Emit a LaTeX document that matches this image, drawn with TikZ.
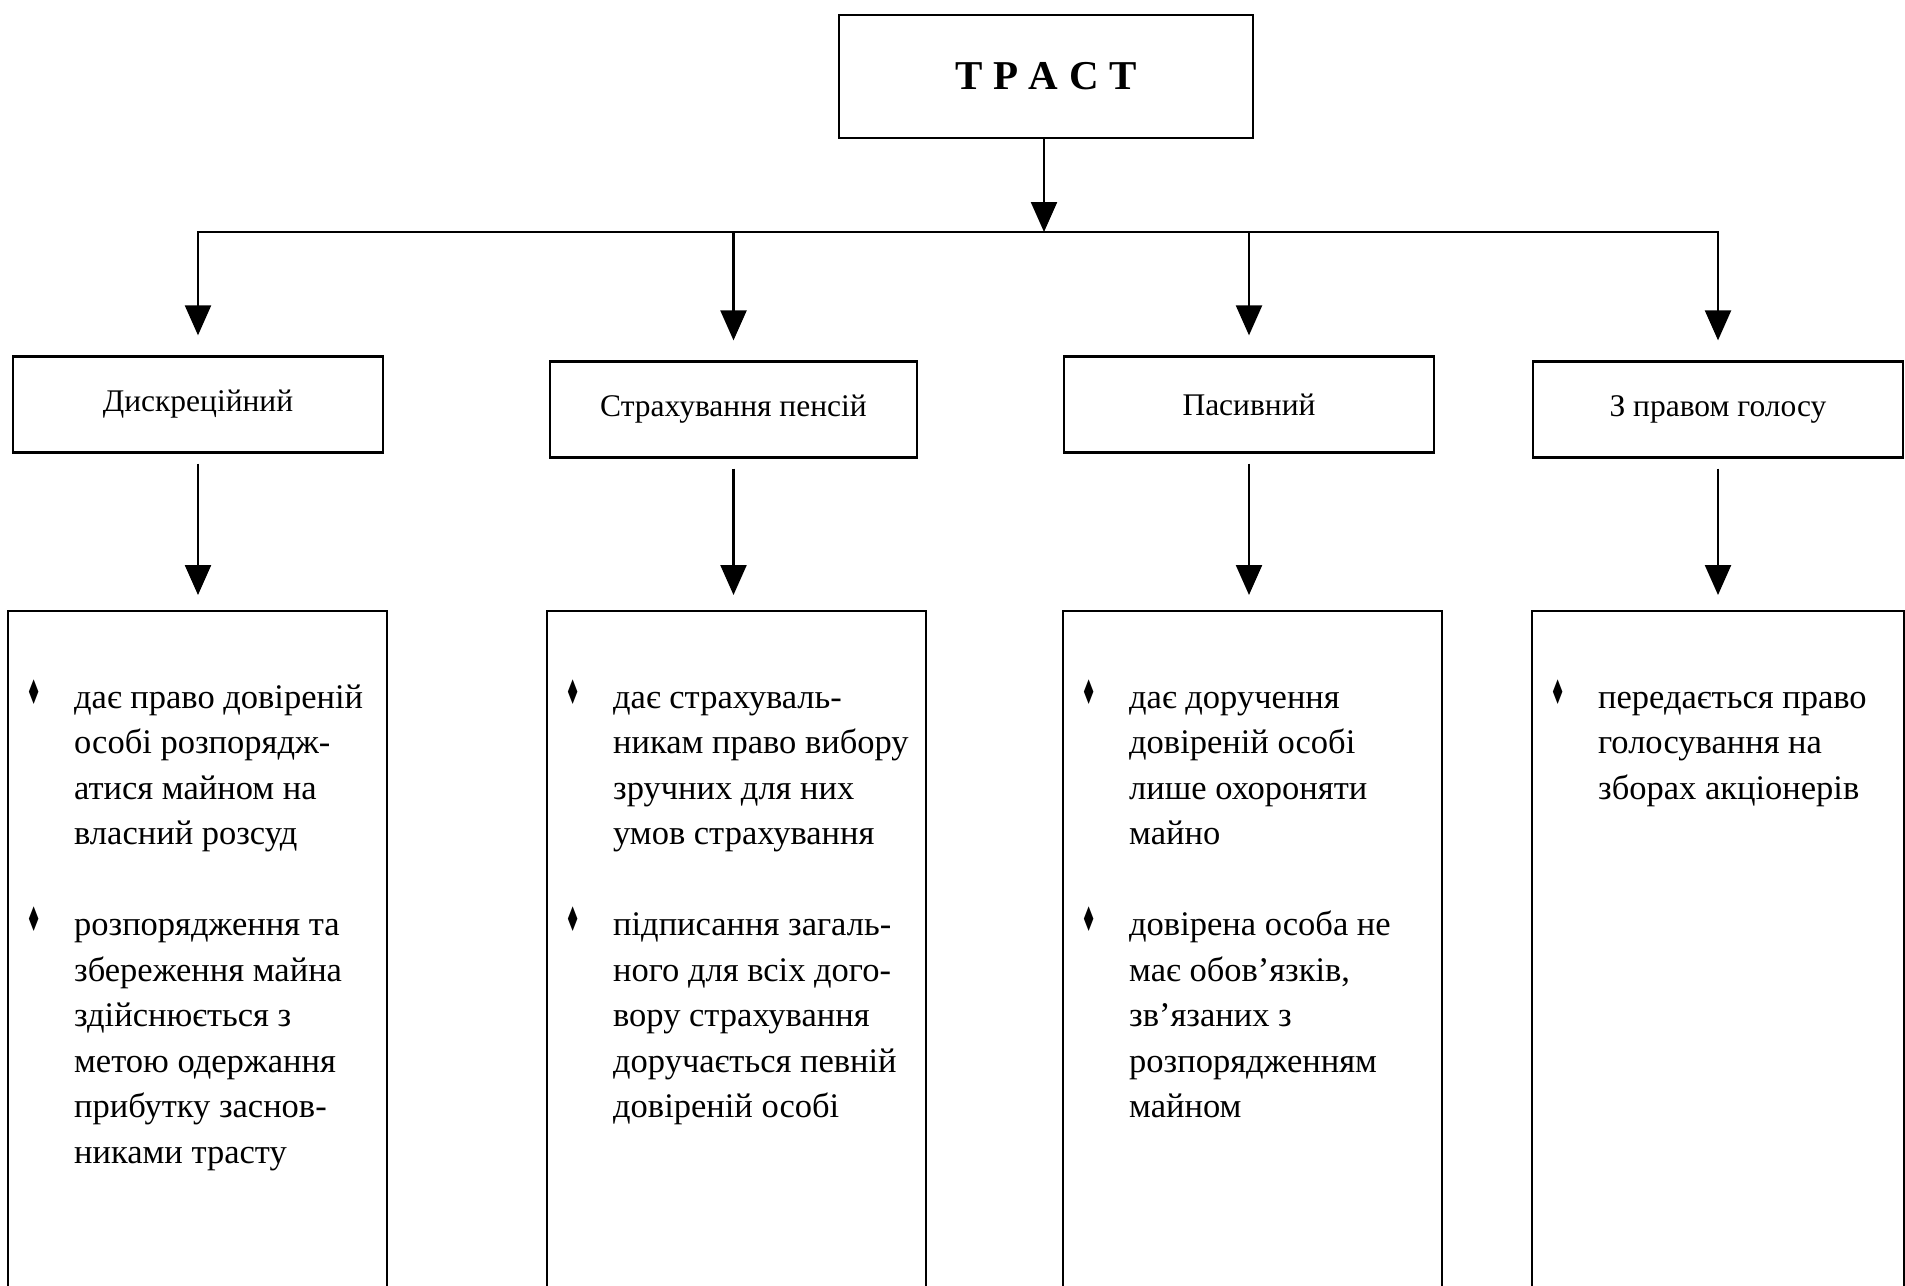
\documentclass[tikz,border=0pt]{standalone}
\usepackage{fontspec}
\setmainfont{Liberation Serif}
\newfontfamily\symfont{DejaVu Sans}
\usetikzlibrary{arrows.meta,positioning}

\newcommand\bul{\leavevmode\kern-3pt\raisebox{4pt}{\scalebox{0.5}[1]{\fontsize{34}{34}\symfont ♦}}}
\newcommand\listblock[2][337pt]{\begin{minipage}[t][560pt][t]{#1}\begin{tabular}[t]{@{}p{45pt}@{}l@{}}#2\end{tabular}\end{minipage}}

\tikzset{
	plainbox/.style={draw, line width=2.3pt, inner sep=0pt},
	headbox/.style={plainbox, minimum width=414pt, minimum height=123pt, font=\bfseries\fontsize{41}{41}\selectfont},
	kindbox/.style={plainbox, minimum width=370pt, minimum height=96pt, font=\fontsize{31.5}{31.5}\selectfont},
	listbox/.style={plainbox, anchor=north west, inner xsep=21pt, inner ysep=65pt, font=\fontsize{34.5}{45.5}\selectfont},
	linkarrow/.style={line width=2.3pt, -{Triangle[length=30pt,width=26pt]}}
}

\begin{document}
\begin{tikzpicture}[x=1pt,y=-1pt]
			\useasboundingbox (0,0) rectangle (1905,1285);
			% top
			\node[headbox] (trust) at (1046,76.5) {Т\hspace{10.5pt}Р\hspace{10.5pt}А\hspace{10.5pt}С\hspace{10.5pt}Т};
			\coordinate (hub) at (1044,232);
			% kinds of trust
			\node[kindbox] (disc) at (198,404.5) {Дискреційний};
			\node[kindbox, minimum width=367pt] (pens) at (733.5,409.5) {Страхування пенсій};
			\node[kindbox] (pass) at (1249,404.5) {Пасивний};
			\node[kindbox] (vote) at (1718,409.5) {З правом голосу};
			% lists
			\node[listbox] (discL) at (7,610) {\listblock{
				\bul & дає право довіреній\\
				& особі розпорядж-\\
				& атися майном на\\
				& власний розсуд\\
				& \\
				\bul & розпорядження та\\
				& збереження майна\\
				& здійснюється з\\
				& метою одержання\\
				& прибутку заснов-\\
				& никами трасту}};
			\node[listbox] (pensL) at (546,610) {\listblock{
				\bul & дає страхуваль-\\
				& никам право вибору\\
				& зручних для них\\
				& умов страхування\\
				& \\
				\bul & підписання загаль-\\
				& ного для всіх дого-\\
				& вору страхування\\
				& доручається певній\\
				& довіреній особі}};
			\node[listbox] (passL) at (1062,610) {\listblock{
				\bul & дає доручення\\
				& довіреній особі\\
				& лише охороняти\\
				& майно\\
				& \\
				\bul & довірена особа не\\
				& має обов’язків,\\
				& зв’язаних з\\
				& розпорядженням\\
				& майном}};
			\node[listbox] (voteL) at (1531,610) {\listblock[330pt]{
				\bul & передається право\\
				& голосування на\\
				& зборах акціонерів}};
			% links
			\draw[linkarrow] (trust.south -| hub) -- (hub);
			\draw[line width=2.3pt, line cap=rect] (disc |- hub) -- (vote |- hub);
			\foreach \kind in {disc,pens,pass,vote}{
				\draw[linkarrow, shorten >=20pt] (\kind |- hub) -- (\kind.north);
				\draw[linkarrow, shorten <=10pt, shorten >=15pt] (\kind.south) -- (\kind |- \kind L.north);
			}
\end{tikzpicture}
\end{document}
